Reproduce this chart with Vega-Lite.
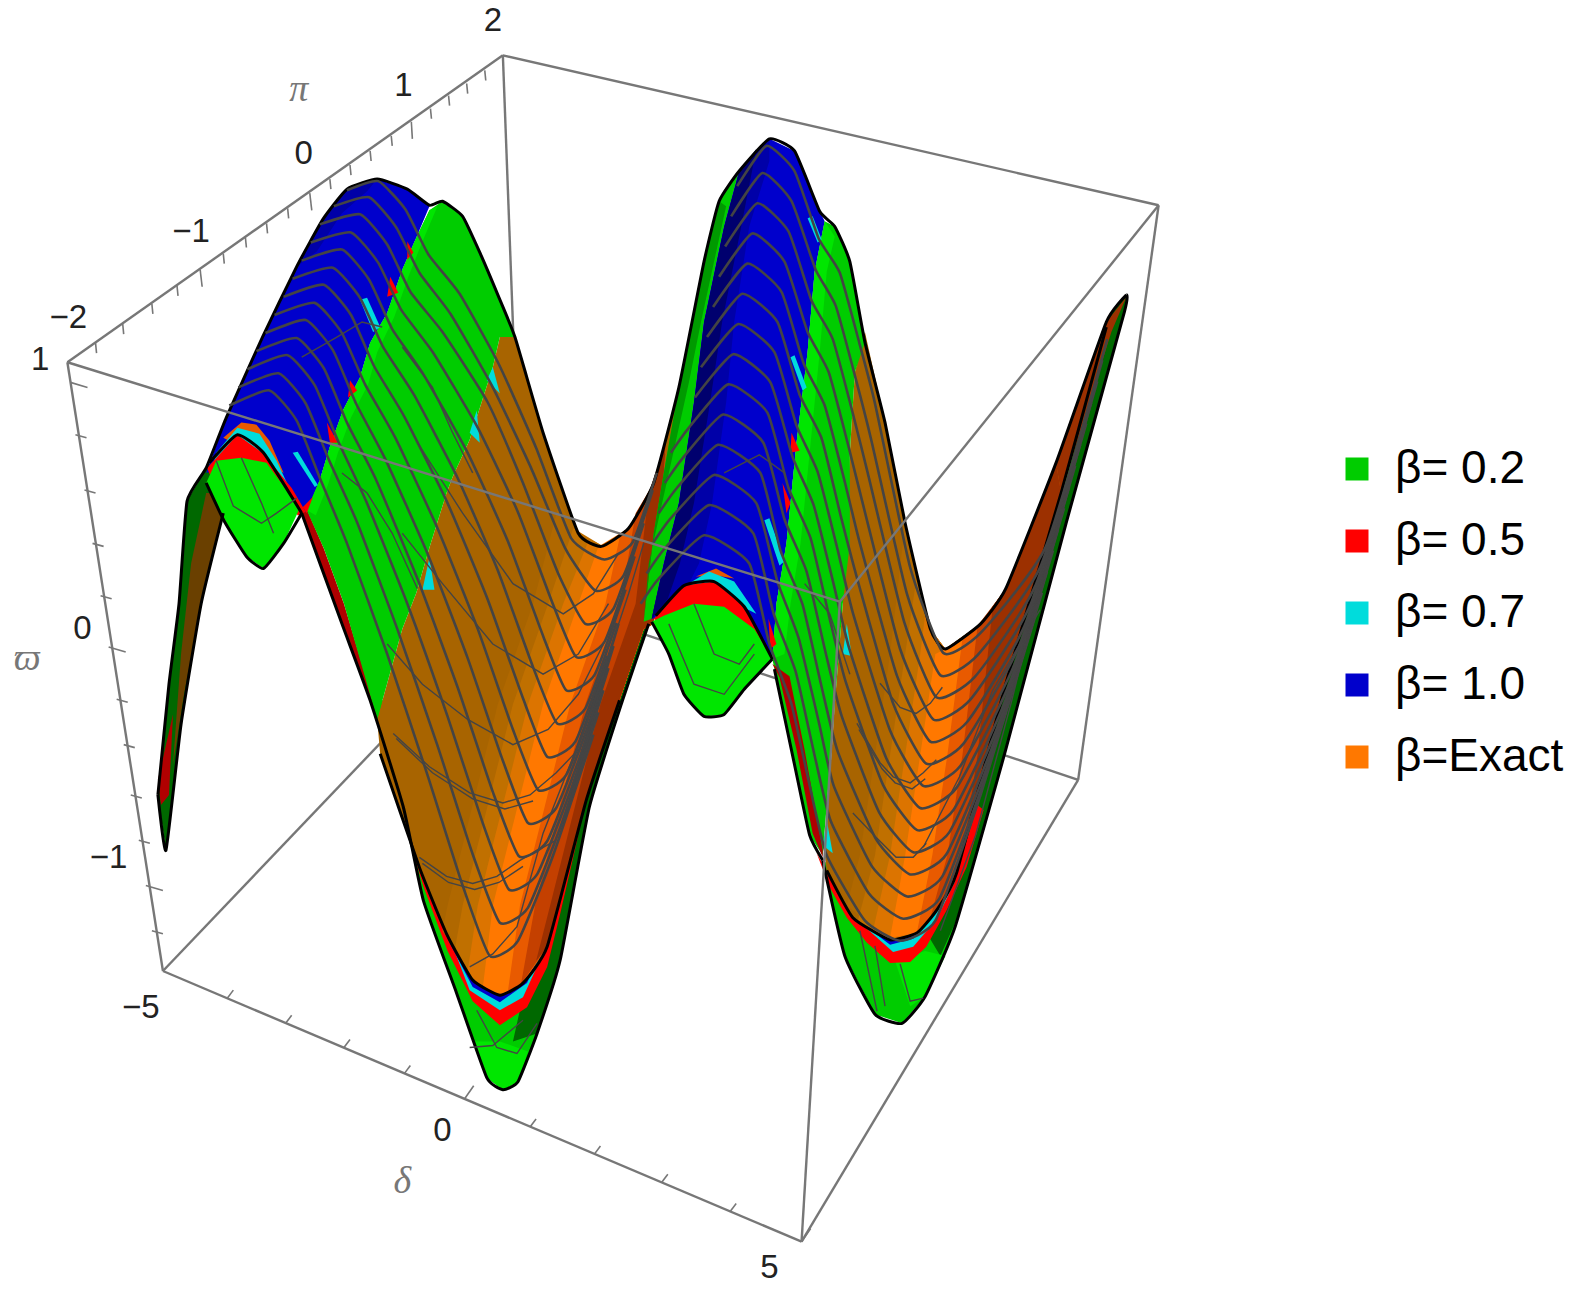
{
"$schema":"https://vega.github.io/schema/vega-lite/v6.json",
"width":1577,"height":1293,"padding":0,"autosize":{"type":"none"},"background":"white",
"config":{"view":{"stroke":null}},
"datasets":{
"parts":[{"part":"p01","tone":"gd"},{"part":"p02","tone":"bd"},{"part":"p03","tone":"rd"},{"part":"p04","tone":"β= 1.0"},{"part":"p05","tone":"bm"},{"part":"p06","tone":"o6"},{"part":"p07","tone":"β= 0.7"},{"part":"p08","tone":"β= 0.5"},{"part":"p09","tone":"gb"},{"part":"p11","tone":"β= 0.2"},{"part":"p12","tone":"gd"},{"part":"p13","tone":"gb"},{"part":"p14","tone":"rd"},{"part":"p15","tone":"β= 0.5"},{"part":"p16","tone":"β= 0.7"},{"part":"p17","tone":"β= 1.0"},{"part":"p18","tone":"o1"},{"part":"p19","tone":"o2"},{"part":"p20","tone":"o3"},{"part":"p21","tone":"o4"},{"part":"p22","tone":"β=Exact"},{"part":"p23","tone":"o6"},{"part":"p24","tone":"o7"},{"part":"p25","tone":"o8"},{"part":"p26","tone":"β= 0.2"},{"part":"p27","tone":"gb"},{"part":"p30","tone":"β= 0.2"},{"part":"p31","tone":"gd"},{"part":"p32","tone":"gb"},{"part":"p33","tone":"β= 0.5"},{"part":"p34","tone":"β= 0.7"},{"part":"p35","tone":"β= 1.0"},{"part":"p36","tone":"o1"},{"part":"p37","tone":"o2"},{"part":"p38","tone":"o3"},{"part":"p39","tone":"o4"},{"part":"p40","tone":"β=Exact"},{"part":"p41","tone":"o6"},{"part":"p42","tone":"o7"},{"part":"p43","tone":"o8"},{"part":"p44","tone":"o8"},{"part":"p45","tone":"β= 0.2"},{"part":"p46","tone":"gm"},{"part":"p47","tone":"β= 1.0"},{"part":"p48","tone":"bm"},{"part":"p49","tone":"bd2"},{"part":"p50","tone":"o6"},{"part":"p51","tone":"β= 0.7"},{"part":"p52","tone":"β= 0.5"},{"part":"p53","tone":"gb"},{"part":"p54","tone":"β= 0.2"},{"part":"p55","tone":"gb"},{"part":"p56","tone":"rd"},{"part":"c1","tone":"β= 0.7"},{"part":"c2","tone":"β= 0.7"},{"part":"c3","tone":"β= 0.7"},{"part":"c4","tone":"β= 0.7"},{"part":"c5","tone":"β= 0.7"},{"part":"c6","tone":"β= 0.7"},{"part":"c7","tone":"β= 0.7"},{"part":"c8","tone":"β= 0.7"},{"part":"c9","tone":"β= 0.7"},{"part":"c10","tone":"β= 0.7"},{"part":"r1","tone":"β= 0.5"},{"part":"r2","tone":"β= 0.5"},{"part":"r3","tone":"β= 0.5"},{"part":"r4","tone":"β= 0.5"},{"part":"r5","tone":"β= 0.5"},{"part":"r6","tone":"β= 0.5"},{"part":"r7","tone":"β= 0.5"},{"part":"r8","tone":"β= 0.5"}],
"poly":[
{"part":"p01","u":157,"v":790},{"part":"p01","u":168,"v":680},{"part":"p01","u":178,"v":600},{"part":"p01","u":186,"v":498},{"part":"p01","u":205,"v":465},{"part":"p01","u":232,"v":430},{"part":"p01","u":222,"v":510},{"part":"p01","u":200,"v":600},{"part":"p01","u":180,"v":720},{"part":"p01","u":165,"v":845},
{"part":"p02","u":180,"v":650},{"part":"p02","u":190,"v":560},{"part":"p02","u":205,"v":490},{"part":"p02","u":222,"v":490},{"part":"p02","u":222,"v":510},{"part":"p02","u":200,"v":600},{"part":"p02","u":183,"v":690},{"part":"p02","u":172,"v":760},
{"part":"p03","u":157,"v":775},{"part":"p03","u":172,"v":710},{"part":"p03","u":168,"v":790},{"part":"p03","u":160,"v":800},
{"part":"p04","u":205,"v":470},{"part":"p04","u":225,"v":415},{"part":"p04","u":261,"v":335},{"part":"p04","u":295,"v":265},{"part":"p04","u":321,"v":218},{"part":"p04","u":345,"v":188},{"part":"p04","u":375,"v":178},{"part":"p04","u":405,"v":188},{"part":"p04","u":427,"v":205},{"part":"p04","u":414,"v":236},{"part":"p04","u":400,"v":268},{"part":"p04","u":385,"v":311},{"part":"p04","u":368,"v":341},{"part":"p04","u":358,"v":375},{"part":"p04","u":341,"v":408},{"part":"p04","u":328,"v":444},{"part":"p04","u":318,"v":477},{"part":"p04","u":305,"v":510},{"part":"p04","u":296,"v":505},{"part":"p04","u":270,"v":470},{"part":"p04","u":240,"v":460},
{"part":"p05","u":295,"v":265},{"part":"p05","u":321,"v":218},{"part":"p05","u":345,"v":188},{"part":"p05","u":375,"v":178},{"part":"p05","u":365,"v":190},{"part":"p05","u":340,"v":212},{"part":"p05","u":315,"v":250},
{"part":"p06","u":222,"v":435},{"part":"p06","u":240,"v":420},{"part":"p06","u":255,"v":422},{"part":"p06","u":268,"v":438},{"part":"p06","u":282,"v":470},{"part":"p06","u":250,"v":450},
{"part":"p07","u":215,"v":450},{"part":"p07","u":236,"v":425},{"part":"p07","u":258,"v":431},{"part":"p07","u":275,"v":458},{"part":"p07","u":290,"v":490},{"part":"p07","u":260,"v":460},{"part":"p07","u":236,"v":445},{"part":"p07","u":212,"v":462},
{"part":"p08","u":206,"v":465},{"part":"p08","u":236,"v":432},{"part":"p08","u":262,"v":451},{"part":"p08","u":290,"v":485},{"part":"p08","u":306,"v":512},{"part":"p08","u":296,"v":512},{"part":"p08","u":265,"v":470},{"part":"p08","u":240,"v":465},{"part":"p08","u":210,"v":475},
{"part":"p09","u":205,"v":480},{"part":"p09","u":215,"v":458},{"part":"p09","u":240,"v":455},{"part":"p09","u":265,"v":460},{"part":"p09","u":298,"v":505},{"part":"p09","u":282,"v":540},{"part":"p09","u":262,"v":565},{"part":"p09","u":245,"v":553},{"part":"p09","u":223,"v":518},
{"part":"p11","u":368,"v":696},{"part":"p11","u":401,"v":802},{"part":"p11","u":421,"v":895},{"part":"p11","u":454,"v":987},{"part":"p11","u":484,"v":1071},{"part":"p11","u":500,"v":1083},{"part":"p11","u":515,"v":1075},{"part":"p11","u":534,"v":1027},{"part":"p11","u":557,"v":954},{"part":"p11","u":586,"v":802},{"part":"p11","u":619,"v":696},
{"part":"p12","u":534,"v":1027},{"part":"p12","u":557,"v":954},{"part":"p12","u":586,"v":802},{"part":"p12","u":619,"v":696},{"part":"p12","u":645,"v":620},{"part":"p12","u":640,"v":625},{"part":"p12","u":616,"v":696},{"part":"p12","u":583,"v":795},{"part":"p12","u":544,"v":941},{"part":"p12","u":520,"v":990},{"part":"p12","u":510,"v":1035},
{"part":"p13","u":484,"v":1071},{"part":"p13","u":500,"v":1083},{"part":"p13","u":515,"v":1075},{"part":"p13","u":525,"v":1045},{"part":"p13","u":497,"v":1035},{"part":"p13","u":470,"v":1035},
{"part":"p14","u":300,"v":510},{"part":"p14","u":306,"v":508},{"part":"p14","u":322,"v":545},{"part":"p14","u":342,"v":600},{"part":"p14","u":378,"v":720},{"part":"p14","u":368,"v":696},{"part":"p14","u":340,"v":620},
{"part":"p15","u":378,"v":740},{"part":"p15","u":421,"v":881},{"part":"p15","u":445,"v":945},{"part":"p15","u":470,"v":995},{"part":"p15","u":497,"v":1019},{"part":"p15","u":524,"v":1001},{"part":"p15","u":544,"v":961},{"part":"p15","u":557,"v":908},{"part":"p15","u":575,"v":830},{"part":"p15","u":497,"v":950},
{"part":"p16","u":425,"v":875},{"part":"p16","u":467,"v":984},{"part":"p16","u":497,"v":1004},{"part":"p16","u":520,"v":991},{"part":"p16","u":548,"v":930},{"part":"p16","u":497,"v":950},
{"part":"p17","u":425,"v":875},{"part":"p17","u":447,"v":937},{"part":"p17","u":470,"v":981},{"part":"p17","u":497,"v":996},{"part":"p17","u":524,"v":977},{"part":"p17","u":548,"v":925},{"part":"p17","u":497,"v":950},
{"part":"p18","u":497,"v":335},{"part":"p18","u":512,"v":335},{"part":"p18","u":540,"v":430},{"part":"p18","u":575,"v":530},{"part":"p18","u":600,"v":543},{"part":"p18","u":625,"v":525},{"part":"p18","u":650,"v":480},{"part":"p18","u":675,"v":385},{"part":"p18","u":690,"v":310},{"part":"p18","u":650,"v":620},{"part":"p18","u":640,"v":625},{"part":"p18","u":616,"v":696},{"part":"p18","u":583,"v":795},{"part":"p18","u":544,"v":941},{"part":"p18","u":520,"v":977},{"part":"p18","u":497,"v":989},{"part":"p18","u":470,"v":974},{"part":"p18","u":444,"v":928},{"part":"p18","u":417,"v":862},{"part":"p18","u":378,"v":749},{"part":"p18","u":375,"v":715},{"part":"p18","u":400,"v":625},{"part":"p18","u":414,"v":589},{"part":"p18","u":427,"v":544},{"part":"p18","u":444,"v":490},{"part":"p18","u":450,"v":474},{"part":"p18","u":467,"v":437},{"part":"p18","u":474,"v":415},{"part":"p18","u":490,"v":365},
{"part":"p19","u":440,"v":925},{"part":"p19","u":445,"v":900},{"part":"p19","u":470,"v":800},{"part":"p19","u":495,"v":700},{"part":"p19","u":530,"v":600},{"part":"p19","u":556,"v":500},{"part":"p19","u":575,"v":530},{"part":"p19","u":600,"v":543},{"part":"p19","u":625,"v":525},{"part":"p19","u":650,"v":480},{"part":"p19","u":662,"v":440},{"part":"p19","u":650,"v":620},{"part":"p19","u":640,"v":625},{"part":"p19","u":616,"v":696},{"part":"p19","u":583,"v":795},{"part":"p19","u":544,"v":941},{"part":"p19","u":520,"v":977},{"part":"p19","u":497,"v":989},{"part":"p19","u":470,"v":974},
{"part":"p20","u":452,"v":945},{"part":"p20","u":460,"v":900},{"part":"p20","u":485,"v":800},{"part":"p20","u":510,"v":700},{"part":"p20","u":545,"v":600},{"part":"p20","u":570,"v":525},{"part":"p20","u":600,"v":543},{"part":"p20","u":625,"v":525},{"part":"p20","u":650,"v":480},{"part":"p20","u":662,"v":440},{"part":"p20","u":650,"v":620},{"part":"p20","u":640,"v":625},{"part":"p20","u":616,"v":696},{"part":"p20","u":583,"v":795},{"part":"p20","u":544,"v":941},{"part":"p20","u":520,"v":977},{"part":"p20","u":497,"v":989},{"part":"p20","u":470,"v":974},
{"part":"p21","u":465,"v":965},{"part":"p21","u":475,"v":900},{"part":"p21","u":500,"v":800},{"part":"p21","u":525,"v":700},{"part":"p21","u":560,"v":600},{"part":"p21","u":585,"v":538},{"part":"p21","u":600,"v":543},{"part":"p21","u":625,"v":525},{"part":"p21","u":650,"v":480},{"part":"p21","u":662,"v":440},{"part":"p21","u":650,"v":620},{"part":"p21","u":640,"v":625},{"part":"p21","u":616,"v":696},{"part":"p21","u":583,"v":795},{"part":"p21","u":544,"v":941},{"part":"p21","u":520,"v":977},{"part":"p21","u":497,"v":989},{"part":"p21","u":470,"v":974},
{"part":"p22","u":480,"v":982},{"part":"p22","u":490,"v":900},{"part":"p22","u":515,"v":800},{"part":"p22","u":540,"v":700},{"part":"p22","u":575,"v":600},{"part":"p22","u":595,"v":543},{"part":"p22","u":625,"v":525},{"part":"p22","u":650,"v":480},{"part":"p22","u":662,"v":440},{"part":"p22","u":650,"v":620},{"part":"p22","u":640,"v":625},{"part":"p22","u":616,"v":696},{"part":"p22","u":583,"v":795},{"part":"p22","u":544,"v":941},{"part":"p22","u":520,"v":977},{"part":"p22","u":497,"v":989},
{"part":"p23","u":505,"v":985},{"part":"p23","u":517,"v":900},{"part":"p23","u":542,"v":800},{"part":"p23","u":567,"v":700},{"part":"p23","u":602,"v":600},{"part":"p23","u":617,"v":530},{"part":"p23","u":625,"v":525},{"part":"p23","u":650,"v":480},{"part":"p23","u":662,"v":440},{"part":"p23","u":650,"v":620},{"part":"p23","u":640,"v":625},{"part":"p23","u":616,"v":696},{"part":"p23","u":583,"v":795},{"part":"p23","u":544,"v":941},{"part":"p23","u":520,"v":977},
{"part":"p24","u":518,"v":978},{"part":"p24","u":532,"v":900},{"part":"p24","u":557,"v":800},{"part":"p24","u":582,"v":700},{"part":"p24","u":617,"v":600},{"part":"p24","u":632,"v":510},{"part":"p24","u":650,"v":480},{"part":"p24","u":662,"v":440},{"part":"p24","u":650,"v":620},{"part":"p24","u":640,"v":625},{"part":"p24","u":616,"v":696},{"part":"p24","u":583,"v":795},{"part":"p24","u":544,"v":941},
{"part":"p25","u":533,"v":955},{"part":"p25","u":547,"v":900},{"part":"p25","u":572,"v":800},{"part":"p25","u":597,"v":700},{"part":"p25","u":632,"v":600},{"part":"p25","u":645,"v":490},{"part":"p25","u":662,"v":440},{"part":"p25","u":650,"v":620},{"part":"p25","u":640,"v":625},{"part":"p25","u":616,"v":696},{"part":"p25","u":583,"v":795},{"part":"p25","u":544,"v":941},
{"part":"p26","u":305,"v":507},{"part":"p26","u":318,"v":477},{"part":"p26","u":328,"v":444},{"part":"p26","u":341,"v":408},{"part":"p26","u":358,"v":375},{"part":"p26","u":368,"v":341},{"part":"p26","u":385,"v":311},{"part":"p26","u":400,"v":268},{"part":"p26","u":414,"v":236},{"part":"p26","u":427,"v":209},{"part":"p26","u":440,"v":200},{"part":"p26","u":460,"v":215},{"part":"p26","u":478,"v":253},{"part":"p26","u":495,"v":293},{"part":"p26","u":512,"v":335},{"part":"p26","u":497,"v":335},{"part":"p26","u":490,"v":365},{"part":"p26","u":474,"v":415},{"part":"p26","u":467,"v":437},{"part":"p26","u":450,"v":474},{"part":"p26","u":444,"v":490},{"part":"p26","u":427,"v":544},{"part":"p26","u":414,"v":589},{"part":"p26","u":400,"v":625},{"part":"p26","u":375,"v":715},{"part":"p26","u":342,"v":600},{"part":"p26","u":322,"v":545},
{"part":"p27","u":305,"v":507},{"part":"p27","u":318,"v":477},{"part":"p27","u":328,"v":444},{"part":"p27","u":341,"v":408},{"part":"p27","u":358,"v":375},{"part":"p27","u":368,"v":341},{"part":"p27","u":385,"v":311},{"part":"p27","u":400,"v":268},{"part":"p27","u":414,"v":236},{"part":"p27","u":427,"v":209},{"part":"p27","u":435,"v":205},{"part":"p27","u":420,"v":240},{"part":"p27","u":406,"v":275},{"part":"p27","u":392,"v":315},{"part":"p27","u":375,"v":350},{"part":"p27","u":366,"v":382},{"part":"p27","u":349,"v":415},{"part":"p27","u":336,"v":450},{"part":"p27","u":326,"v":482},{"part":"p27","u":314,"v":512},
{"part":"p30","u":818,"v":855},{"part":"p30","u":840,"v":950},{"part":"p30","u":870,"v":1008},{"part":"p30","u":897,"v":1017},{"part":"p30","u":920,"v":990},{"part":"p30","u":950,"v":920},{"part":"p30","u":1000,"v":745},{"part":"p30","u":1060,"v":520},{"part":"p30","u":1118,"v":310},{"part":"p30","u":1120,"v":293},{"part":"p30","u":1105,"v":310},{"part":"p30","u":1050,"v":465},{"part":"p30","u":1000,"v":700},{"part":"p30","u":950,"v":860},{"part":"p30","u":920,"v":940},{"part":"p30","u":890,"v":942},{"part":"p30","u":860,"v":920},{"part":"p30","u":825,"v":860},
{"part":"p31","u":1120,"v":293},{"part":"p31","u":1118,"v":310},{"part":"p31","u":1060,"v":520},{"part":"p31","u":1000,"v":745},{"part":"p31","u":955,"v":905},{"part":"p31","u":935,"v":950},{"part":"p31","u":920,"v":925},{"part":"p31","u":950,"v":830},{"part":"p31","u":1000,"v":680},{"part":"p31","u":1055,"v":500},{"part":"p31","u":1100,"v":320},
{"part":"p32","u":890,"v":955},{"part":"p32","u":920,"v":945},{"part":"p32","u":940,"v":950},{"part":"p32","u":920,"v":990},{"part":"p32","u":905,"v":1000},
{"part":"p33","u":812,"v":848},{"part":"p33","u":825,"v":882},{"part":"p33","u":842,"v":912},{"part":"p33","u":862,"v":937},{"part":"p33","u":885,"v":957},{"part":"p33","u":905,"v":956},{"part":"p33","u":921,"v":941},{"part":"p33","u":941,"v":905},{"part":"p33","u":961,"v":862},{"part":"p33","u":978,"v":805},{"part":"p33","u":972,"v":800},{"part":"p33","u":951,"v":868},{"part":"p33","u":931,"v":905},{"part":"p33","u":912,"v":927},{"part":"p33","u":885,"v":934},{"part":"p33","u":848,"v":912},{"part":"p33","u":822,"v":865},
{"part":"p34","u":845,"v":905},{"part":"p34","u":852,"v":914},{"part":"p34","u":888,"v":946},{"part":"p34","u":908,"v":941},{"part":"p34","u":931,"v":914},{"part":"p34","u":950,"v":875},{"part":"p34","u":931,"v":900},{"part":"p34","u":905,"v":925},{"part":"p34","u":885,"v":930},{"part":"p34","u":855,"v":915},
{"part":"p35","u":848,"v":905},{"part":"p35","u":860,"v":920},{"part":"p35","u":885,"v":939},{"part":"p35","u":908,"v":933},{"part":"p35","u":931,"v":905},{"part":"p35","u":945,"v":880},{"part":"p35","u":931,"v":898},{"part":"p35","u":912,"v":922},{"part":"p35","u":885,"v":928},{"part":"p35","u":855,"v":910},
{"part":"p36","u":860,"v":330},{"part":"p36","u":880,"v":420},{"part":"p36","u":900,"v":520},{"part":"p36","u":925,"v":625},{"part":"p36","u":940,"v":645},{"part":"p36","u":975,"v":620},{"part":"p36","u":1000,"v":585},{"part":"p36","u":1050,"v":460},{"part":"p36","u":1055,"v":490},{"part":"p36","u":1000,"v":680},{"part":"p36","u":951,"v":868},{"part":"p36","u":931,"v":905},{"part":"p36","u":912,"v":927},{"part":"p36","u":885,"v":934},{"part":"p36","u":848,"v":912},{"part":"p36","u":822,"v":865},{"part":"p36","u":820,"v":850},{"part":"p36","u":830,"v":700},{"part":"p36","u":838,"v":600},{"part":"p36","u":845,"v":450},{"part":"p36","u":850,"v":370},
{"part":"p37","u":842,"v":900},{"part":"p37","u":855,"v":850},{"part":"p37","u":870,"v":750},{"part":"p37","u":885,"v":650},{"part":"p37","u":900,"v":520},{"part":"p37","u":925,"v":625},{"part":"p37","u":940,"v":645},{"part":"p37","u":975,"v":620},{"part":"p37","u":1000,"v":585},{"part":"p37","u":1050,"v":460},{"part":"p37","u":1055,"v":490},{"part":"p37","u":1000,"v":680},{"part":"p37","u":951,"v":868},{"part":"p37","u":931,"v":905},{"part":"p37","u":912,"v":927},{"part":"p37","u":885,"v":934},
{"part":"p38","u":853,"v":915},{"part":"p38","u":870,"v":850},{"part":"p38","u":885,"v":750},{"part":"p38","u":900,"v":650},{"part":"p38","u":912,"v":570},{"part":"p38","u":925,"v":625},{"part":"p38","u":940,"v":645},{"part":"p38","u":975,"v":620},{"part":"p38","u":1000,"v":585},{"part":"p38","u":1050,"v":460},{"part":"p38","u":1055,"v":490},{"part":"p38","u":1000,"v":680},{"part":"p38","u":951,"v":868},{"part":"p38","u":931,"v":905},{"part":"p38","u":912,"v":927},{"part":"p38","u":885,"v":934},
{"part":"p39","u":868,"v":925},{"part":"p39","u":885,"v":850},{"part":"p39","u":900,"v":750},{"part":"p39","u":915,"v":650},{"part":"p39","u":920,"v":610},{"part":"p39","u":925,"v":625},{"part":"p39","u":940,"v":645},{"part":"p39","u":975,"v":620},{"part":"p39","u":1000,"v":585},{"part":"p39","u":1050,"v":460},{"part":"p39","u":1055,"v":490},{"part":"p39","u":1000,"v":680},{"part":"p39","u":951,"v":868},{"part":"p39","u":931,"v":905},{"part":"p39","u":912,"v":927},{"part":"p39","u":885,"v":934},
{"part":"p40","u":885,"v":932},{"part":"p40","u":900,"v":850},{"part":"p40","u":915,"v":750},{"part":"p40","u":930,"v":650},{"part":"p40","u":940,"v":645},{"part":"p40","u":975,"v":620},{"part":"p40","u":1000,"v":585},{"part":"p40","u":1050,"v":460},{"part":"p40","u":1055,"v":490},{"part":"p40","u":1000,"v":680},{"part":"p40","u":951,"v":868},{"part":"p40","u":931,"v":905},{"part":"p40","u":912,"v":927},
{"part":"p41","u":912,"v":925},{"part":"p41","u":927,"v":850},{"part":"p41","u":942,"v":750},{"part":"p41","u":957,"v":634},{"part":"p41","u":975,"v":620},{"part":"p41","u":1000,"v":585},{"part":"p41","u":1050,"v":460},{"part":"p41","u":1055,"v":490},{"part":"p41","u":1000,"v":680},{"part":"p41","u":951,"v":868},{"part":"p41","u":931,"v":905},
{"part":"p42","u":925,"v":912},{"part":"p42","u":942,"v":850},{"part":"p42","u":957,"v":750},{"part":"p42","u":972,"v":622},{"part":"p42","u":1000,"v":585},{"part":"p42","u":1050,"v":460},{"part":"p42","u":1055,"v":490},{"part":"p42","u":1000,"v":680},{"part":"p42","u":951,"v":868},{"part":"p42","u":931,"v":905},
{"part":"p43","u":938,"v":892},{"part":"p43","u":957,"v":850},{"part":"p43","u":972,"v":750},{"part":"p43","u":987,"v":603},{"part":"p43","u":1000,"v":585},{"part":"p43","u":1050,"v":460},{"part":"p43","u":1055,"v":490},{"part":"p43","u":1000,"v":680},{"part":"p43","u":951,"v":868},
{"part":"p44","u":1050,"v":460},{"part":"p44","u":1100,"v":320},{"part":"p44","u":1120,"v":295},{"part":"p44","u":1105,"v":330},{"part":"p44","u":1055,"v":490},
{"part":"p45","u":715,"v":200},{"part":"p45","u":700,"v":260},{"part":"p45","u":688,"v":320},{"part":"p45","u":675,"v":385},{"part":"p45","u":660,"v":470},{"part":"p45","u":650,"v":530},{"part":"p45","u":640,"v":618},{"part":"p45","u":648,"v":615},{"part":"p45","u":660,"v":560},{"part":"p45","u":675,"v":500},{"part":"p45","u":690,"v":400},{"part":"p45","u":700,"v":320},{"part":"p45","u":720,"v":225},{"part":"p45","u":735,"v":170},
{"part":"p46","u":715,"v":200},{"part":"p46","u":700,"v":260},{"part":"p46","u":688,"v":320},{"part":"p46","u":675,"v":385},{"part":"p46","u":660,"v":470},{"part":"p46","u":650,"v":530},{"part":"p46","u":640,"v":618},{"part":"p46","u":645,"v":560},{"part":"p46","u":665,"v":470},{"part":"p46","u":685,"v":380},{"part":"p46","u":697,"v":320},{"part":"p46","u":710,"v":260},{"part":"p46","u":722,"v":205},
{"part":"p47","u":648,"v":615},{"part":"p47","u":660,"v":560},{"part":"p47","u":675,"v":500},{"part":"p47","u":690,"v":400},{"part":"p47","u":700,"v":320},{"part":"p47","u":720,"v":225},{"part":"p47","u":735,"v":170},{"part":"p47","u":765,"v":138},{"part":"p47","u":790,"v":150},{"part":"p47","u":815,"v":210},{"part":"p47","u":820,"v":220},{"part":"p47","u":810,"v":270},{"part":"p47","u":803,"v":350},{"part":"p47","u":792,"v":440},{"part":"p47","u":782,"v":540},{"part":"p47","u":772,"v":600},{"part":"p47","u":768,"v":655},{"part":"p47","u":745,"v":620},{"part":"p47","u":715,"v":610},{"part":"p47","u":680,"v":610},
{"part":"p48","u":648,"v":615},{"part":"p48","u":660,"v":560},{"part":"p48","u":675,"v":500},{"part":"p48","u":690,"v":400},{"part":"p48","u":700,"v":320},{"part":"p48","u":720,"v":225},{"part":"p48","u":735,"v":170},{"part":"p48","u":765,"v":138},{"part":"p48","u":765,"v":160},{"part":"p48","u":745,"v":225},{"part":"p48","u":730,"v":320},{"part":"p48","u":722,"v":400},{"part":"p48","u":708,"v":500},{"part":"p48","u":695,"v":560},{"part":"p48","u":680,"v":590},
{"part":"p49","u":648,"v":615},{"part":"p49","u":660,"v":560},{"part":"p49","u":675,"v":500},{"part":"p49","u":690,"v":400},{"part":"p49","u":700,"v":320},{"part":"p49","u":720,"v":225},{"part":"p49","u":735,"v":170},{"part":"p49","u":752,"v":148},{"part":"p49","u":737,"v":225},{"part":"p49","u":718,"v":320},{"part":"p49","u":706,"v":400},{"part":"p49","u":690,"v":500},{"part":"p49","u":676,"v":560},{"part":"p49","u":664,"v":595},
{"part":"p50","u":692,"v":573},{"part":"p50","u":712,"v":565},{"part":"p50","u":730,"v":575},{"part":"p50","u":712,"v":572},
{"part":"p51","u":676,"v":585},{"part":"p51","u":705,"v":568},{"part":"p51","u":730,"v":578},{"part":"p51","u":752,"v":610},{"part":"p51","u":722,"v":595},{"part":"p51","u":700,"v":592},
{"part":"p52","u":650,"v":615},{"part":"p52","u":680,"v":582},{"part":"p52","u":710,"v":578},{"part":"p52","u":740,"v":603},{"part":"p52","u":768,"v":655},{"part":"p52","u":745,"v":635},{"part":"p52","u":715,"v":615},{"part":"p52","u":690,"v":615},{"part":"p52","u":660,"v":622},
{"part":"p53","u":648,"v":618},{"part":"p53","u":660,"v":612},{"part":"p53","u":690,"v":600},{"part":"p53","u":720,"v":603},{"part":"p53","u":750,"v":625},{"part":"p53","u":768,"v":655},{"part":"p53","u":740,"v":685},{"part":"p53","u":720,"v":710},{"part":"p53","u":700,"v":712},{"part":"p53","u":680,"v":690},{"part":"p53","u":665,"v":650},
{"part":"p54","u":820,"v":220},{"part":"p54","u":830,"v":225},{"part":"p54","u":845,"v":260},{"part":"p54","u":860,"v":340},{"part":"p54","u":850,"v":370},{"part":"p54","u":845,"v":450},{"part":"p54","u":845,"v":540},{"part":"p54","u":838,"v":600},{"part":"p54","u":830,"v":700},{"part":"p54","u":818,"v":850},{"part":"p54","u":805,"v":830},{"part":"p54","u":790,"v":760},{"part":"p54","u":770,"v":665},{"part":"p54","u":768,"v":655},{"part":"p54","u":772,"v":600},{"part":"p54","u":782,"v":540},{"part":"p54","u":792,"v":440},{"part":"p54","u":803,"v":350},{"part":"p54","u":810,"v":270},
{"part":"p55","u":820,"v":220},{"part":"p55","u":810,"v":270},{"part":"p55","u":803,"v":350},{"part":"p55","u":792,"v":440},{"part":"p55","u":782,"v":540},{"part":"p55","u":772,"v":600},{"part":"p55","u":768,"v":655},{"part":"p55","u":780,"v":650},{"part":"p55","u":786,"v":600},{"part":"p55","u":796,"v":540},{"part":"p55","u":806,"v":440},{"part":"p55","u":815,"v":350},{"part":"p55","u":822,"v":270},{"part":"p55","u":830,"v":235},
{"part":"p56","u":768,"v":660},{"part":"p56","u":775,"v":673},{"part":"p56","u":792,"v":745},{"part":"p56","u":808,"v":828},{"part":"p56","u":818,"v":852},{"part":"p56","u":818,"v":845},{"part":"p56","u":800,"v":745},{"part":"p56","u":785,"v":672},
{"part":"c1","u":358,"v":298},{"part":"c1","u":365,"v":296},{"part":"c1","u":378,"v":325},{"part":"c1","u":371,"v":330},
{"part":"c2","u":291,"v":450},{"part":"c2","u":296,"v":449},{"part":"c2","u":316,"v":482},{"part":"c2","u":313,"v":484},
{"part":"c3","u":490,"v":365},{"part":"c3","u":497,"v":391},{"part":"c3","u":484,"v":378},
{"part":"c4","u":474,"v":408},{"part":"c4","u":477,"v":440},{"part":"c4","u":467,"v":430},
{"part":"c5","u":427,"v":554},{"part":"c5","u":432,"v":586},{"part":"c5","u":420,"v":586},
{"part":"c6","u":760,"v":517},{"part":"c6","u":765,"v":515},{"part":"c6","u":780,"v":558},{"part":"c6","u":775,"v":562},
{"part":"c7","u":786,"v":355},{"part":"c7","u":790,"v":353},{"part":"c7","u":802,"v":385},{"part":"c7","u":798,"v":388},
{"part":"c8","u":803,"v":217},{"part":"c8","u":808,"v":215},{"part":"c8","u":817,"v":238},{"part":"c8","u":813,"v":241},
{"part":"c9","u":842,"v":620},{"part":"c9","u":847,"v":652},{"part":"c9","u":838,"v":650},
{"part":"c10","u":822,"v":815},{"part":"c10","u":828,"v":848},{"part":"c10","u":818,"v":840},
{"part":"r1","u":388,"v":275},{"part":"r1","u":396,"v":291},{"part":"r1","u":385,"v":295},
{"part":"r2","u":348,"v":378},{"part":"r2","u":355,"v":388},{"part":"r2","u":346,"v":395},
{"part":"r3","u":325,"v":420},{"part":"r3","u":336,"v":440},{"part":"r3","u":328,"v":440},
{"part":"r4","u":405,"v":240},{"part":"r4","u":411,"v":251},{"part":"r4","u":405,"v":258},
{"part":"r5","u":301,"v":504},{"part":"r5","u":311,"v":494},{"part":"r5","u":305,"v":510},
{"part":"r6","u":787,"v":430},{"part":"r6","u":795,"v":448},{"part":"r6","u":786,"v":450},
{"part":"r7","u":764,"v":615},{"part":"r7","u":772,"v":640},{"part":"r7","u":766,"v":645},
{"part":"r8","u":778,"v":480},{"part":"r8","u":786,"v":500},{"part":"r8","u":782,"v":510}
],
"outline":[
{"line":"s1","u":157,"v":790},{"line":"s1","u":168,"v":680},{"line":"s1","u":178,"v":600},{"line":"s1","u":186,"v":498},{"line":"s1","u":205,"v":465},{"line":"s1","u":225,"v":415},{"line":"s1","u":261,"v":335},{"line":"s1","u":295,"v":265},{"line":"s1","u":321,"v":218},{"line":"s1","u":345,"v":188},{"line":"s1","u":375,"v":178},{"line":"s1","u":405,"v":188},{"line":"s1","u":427,"v":204},{"line":"s1","u":440,"v":200},{"line":"s1","u":460,"v":215},{"line":"s1","u":478,"v":253},{"line":"s1","u":495,"v":293},{"line":"s1","u":512,"v":335},{"line":"s1","u":540,"v":430},{"line":"s1","u":575,"v":530},{"line":"s1","u":598,"v":543},{"line":"s1","u":625,"v":525},{"line":"s1","u":650,"v":480},{"line":"s1","u":675,"v":385},{"line":"s1","u":700,"v":260},{"line":"s1","u":715,"v":200},{"line":"s1","u":735,"v":170},{"line":"s1","u":765,"v":138},{"line":"s1","u":790,"v":150},{"line":"s1","u":815,"v":210},{"line":"s1","u":830,"v":225},{"line":"s1","u":845,"v":260},{"line":"s1","u":860,"v":340},{"line":"s1","u":880,"v":420},{"line":"s1","u":900,"v":520},{"line":"s1","u":925,"v":625},{"line":"s1","u":940,"v":645},{"line":"s1","u":975,"v":620},{"line":"s1","u":1000,"v":585},{"line":"s1","u":1050,"v":460},{"line":"s1","u":1100,"v":320},{"line":"s1","u":1120,"v":293},
{"line":"s2","u":1120,"v":293},{"line":"s2","u":1118,"v":310},{"line":"s2","u":1060,"v":520},{"line":"s2","u":1000,"v":745},{"line":"s2","u":950,"v":920},{"line":"s2","u":920,"v":990},{"line":"s2","u":897,"v":1017},{"line":"s2","u":870,"v":1008},{"line":"s2","u":840,"v":950},{"line":"s2","u":818,"v":855},
{"line":"s3","u":770,"v":665},{"line":"s3","u":790,"v":760},{"line":"s3","u":805,"v":830},{"line":"s3","u":818,"v":855},
{"line":"s4","u":300,"v":510},{"line":"s4","u":340,"v":620},{"line":"s4","u":368,"v":696},{"line":"s4","u":401,"v":802},{"line":"s4","u":421,"v":895},{"line":"s4","u":454,"v":987},{"line":"s4","u":484,"v":1071},{"line":"s4","u":500,"v":1083},{"line":"s4","u":515,"v":1075},{"line":"s4","u":534,"v":1027},{"line":"s4","u":557,"v":954},{"line":"s4","u":586,"v":802},{"line":"s4","u":619,"v":696},{"line":"s4","u":645,"v":620},
{"line":"s5","u":205,"v":480},{"line":"s5","u":223,"v":518},{"line":"s5","u":245,"v":553},{"line":"s5","u":262,"v":565},{"line":"s5","u":282,"v":540},{"line":"s5","u":300,"v":510},
{"line":"s6","u":648,"v":618},{"line":"s6","u":665,"v":650},{"line":"s6","u":680,"v":690},{"line":"s6","u":700,"v":712},{"line":"s6","u":720,"v":710},{"line":"s6","u":740,"v":685},{"line":"s6","u":768,"v":655},
{"line":"s7","u":222,"v":510},{"line":"s7","u":200,"v":600},{"line":"s7","u":180,"v":720},{"line":"s7","u":165,"v":845},{"line":"s7","u":157,"v":790},
{"line":"s8","u":378,"v":749},{"line":"s8","u":417,"v":862},{"line":"s8","u":444,"v":928},{"line":"s8","u":470,"v":974},{"line":"s8","u":497,"v":989},{"line":"s8","u":520,"v":977},{"line":"s8","u":544,"v":941},{"line":"s8","u":583,"v":795},{"line":"s8","u":616,"v":696},
{"line":"s9","u":822,"v":865},{"line":"s9","u":848,"v":912},{"line":"s9","u":885,"v":934},{"line":"s9","u":912,"v":927},{"line":"s9","u":931,"v":905},{"line":"s9","u":951,"v":868},{"line":"s9","u":1000,"v":680},{"line":"s9","u":1055,"v":490},{"line":"s9","u":1100,"v":325},
{"line":"s10","u":208,"v":460},{"line":"s10","u":236,"v":432},{"line":"s10","u":262,"v":450},{"line":"s10","u":300,"v":510},
{"line":"s11","u":652,"v":612},{"line":"s11","u":680,"v":582},{"line":"s11","u":710,"v":578},{"line":"s11","u":740,"v":603},{"line":"s11","u":768,"v":655}
],
"mesh":[
{"line":"a0","u":228,"v":403},{"line":"a0","u":268,"v":388},{"line":"a0","u":295,"v":418},{"line":"a0","u":318,"v":475},{"line":"a0","u":345,"v":540},{"line":"a0","u":385,"v":650},{"line":"a0","u":425,"v":770},{"line":"a0","u":460,"v":880},{"line":"a0","u":487,"v":950},{"line":"a0","u":515,"v":935},{"line":"a0","u":550,"v":850},{"line":"a0","u":590,"v":730},
{"line":"a1","u":237,"v":385},{"line":"a1","u":277,"v":371},{"line":"a1","u":304,"v":401},{"line":"a1","u":327,"v":457},{"line":"a1","u":355,"v":519},{"line":"a1","u":395,"v":625},{"line":"a1","u":435,"v":741},{"line":"a1","u":470,"v":849},{"line":"a1","u":497,"v":917},{"line":"a1","u":525,"v":902},{"line":"a1","u":559,"v":817},{"line":"a1","u":595,"v":708},
{"line":"a2","u":246,"v":367},{"line":"a2","u":286,"v":353},{"line":"a2","u":313,"v":383},{"line":"a2","u":336,"v":438},{"line":"a2","u":364,"v":498},{"line":"a2","u":405,"v":600},{"line":"a2","u":445,"v":712},{"line":"a2","u":480,"v":818},{"line":"a2","u":506,"v":884},{"line":"a2","u":534,"v":869},{"line":"a2","u":568,"v":784},{"line":"a2","u":600,"v":686},
{"line":"a3","u":255,"v":349},{"line":"a3","u":295,"v":336},{"line":"a3","u":322,"v":366},{"line":"a3","u":345,"v":420},{"line":"a3","u":374,"v":477},{"line":"a3","u":415,"v":575},{"line":"a3","u":455,"v":683},{"line":"a3","u":490,"v":787},{"line":"a3","u":516,"v":851},{"line":"a3","u":544,"v":836},{"line":"a3","u":577,"v":751},{"line":"a3","u":605,"v":664},
{"line":"a4","u":264,"v":331},{"line":"a4","u":304,"v":318},{"line":"a4","u":331,"v":348},{"line":"a4","u":354,"v":401},{"line":"a4","u":383,"v":456},{"line":"a4","u":425,"v":550},{"line":"a4","u":465,"v":654},{"line":"a4","u":500,"v":756},{"line":"a4","u":525,"v":818},{"line":"a4","u":553,"v":803},{"line":"a4","u":586,"v":718},{"line":"a4","u":610,"v":642},
{"line":"a5","u":273,"v":313},{"line":"a5","u":313,"v":301},{"line":"a5","u":340,"v":331},{"line":"a5","u":363,"v":382},{"line":"a5","u":393,"v":435},{"line":"a5","u":435,"v":525},{"line":"a5","u":475,"v":625},{"line":"a5","u":510,"v":725},{"line":"a5","u":535,"v":785},{"line":"a5","u":563,"v":770},{"line":"a5","u":595,"v":685},{"line":"a5","u":615,"v":620},
{"line":"a6","u":282,"v":295},{"line":"a6","u":322,"v":283},{"line":"a6","u":349,"v":313},{"line":"a6","u":372,"v":364},{"line":"a6","u":402,"v":414},{"line":"a6","u":445,"v":500},{"line":"a6","u":485,"v":596},{"line":"a6","u":520,"v":694},{"line":"a6","u":544,"v":752},{"line":"a6","u":572,"v":737},{"line":"a6","u":604,"v":652},
{"line":"a7","u":291,"v":277},{"line":"a7","u":331,"v":266},{"line":"a7","u":358,"v":296},{"line":"a7","u":381,"v":345},{"line":"a7","u":412,"v":393},{"line":"a7","u":455,"v":475},{"line":"a7","u":495,"v":567},{"line":"a7","u":530,"v":663},{"line":"a7","u":554,"v":719},{"line":"a7","u":582,"v":704},{"line":"a7","u":613,"v":619},
{"line":"a8","u":300,"v":259},{"line":"a8","u":340,"v":248},{"line":"a8","u":367,"v":278},{"line":"a8","u":390,"v":327},{"line":"a8","u":421,"v":372},{"line":"a8","u":465,"v":450},{"line":"a8","u":505,"v":538},{"line":"a8","u":540,"v":632},{"line":"a8","u":563,"v":686},{"line":"a8","u":591,"v":671},{"line":"a8","u":622,"v":586},
{"line":"a9","u":309,"v":241},{"line":"a9","u":349,"v":231},{"line":"a9","u":376,"v":261},{"line":"a9","u":399,"v":308},{"line":"a9","u":431,"v":351},{"line":"a9","u":475,"v":425},{"line":"a9","u":515,"v":509},{"line":"a9","u":550,"v":601},{"line":"a9","u":573,"v":653},{"line":"a9","u":601,"v":638},{"line":"a9","u":631,"v":553},
{"line":"a10","u":318,"v":223},{"line":"a10","u":358,"v":213},{"line":"a10","u":385,"v":243},{"line":"a10","u":408,"v":290},{"line":"a10","u":440,"v":330},{"line":"a10","u":485,"v":400},{"line":"a10","u":520,"v":480},{"line":"a10","u":555,"v":570},{"line":"a10","u":582,"v":620},{"line":"a10","u":610,"v":605},{"line":"a10","u":640,"v":520},
{"line":"a11","u":332,"v":205},{"line":"a11","u":367,"v":196},{"line":"a11","u":394,"v":226},{"line":"a11","u":417,"v":271},{"line":"a11","u":448,"v":312},{"line":"a11","u":490,"v":385},{"line":"a11","u":528,"v":465},{"line":"a11","u":562,"v":545},{"line":"a11","u":592,"v":587},{"line":"a11","u":620,"v":572},{"line":"a11","u":649,"v":487},
{"line":"a12","u":345,"v":189},{"line":"a12","u":376,"v":180},{"line":"a12","u":403,"v":208},{"line":"a12","u":426,"v":253},{"line":"a12","u":457,"v":292},{"line":"a12","u":496,"v":362},{"line":"a12","u":533,"v":445},{"line":"a12","u":568,"v":535},{"line":"a12","u":601,"v":556},{"line":"a12","u":629,"v":539},{"line":"a12","u":653,"v":470},
{"line":"b0","u":637,"v":600},{"line":"b0","u":655,"v":575},{"line":"b0","u":700,"v":532},{"line":"b0","u":745,"v":560},{"line":"b0","u":765,"v":640},{"line":"b0","u":787,"v":700},{"line":"b0","u":806,"v":785},{"line":"b0","u":822,"v":850},{"line":"b0","u":860,"v":915},{"line":"b0","u":895,"v":935},{"line":"b0","u":930,"v":915},{"line":"b0","u":975,"v":790},{"line":"b0","u":1030,"v":610},
{"line":"b1","u":643,"v":570},{"line":"b1","u":661,"v":545},{"line":"b1","u":705,"v":502},{"line":"b1","u":749,"v":530},{"line":"b1","u":769,"v":609},{"line":"b1","u":791,"v":667},{"line":"b1","u":810,"v":751},{"line":"b1","u":826,"v":816},{"line":"b1","u":864,"v":888},{"line":"b1","u":898,"v":913},{"line":"b1","u":934,"v":893},{"line":"b1","u":980,"v":771},{"line":"b1","u":1036,"v":589},
{"line":"b2","u":649,"v":540},{"line":"b2","u":667,"v":515},{"line":"b2","u":710,"v":472},{"line":"b2","u":752,"v":500},{"line":"b2","u":773,"v":578},{"line":"b2","u":794,"v":634},{"line":"b2","u":814,"v":717},{"line":"b2","u":829,"v":781},{"line":"b2","u":867,"v":861},{"line":"b2","u":902,"v":891},{"line":"b2","u":937,"v":871},{"line":"b2","u":985,"v":752},{"line":"b2","u":1041,"v":568},
{"line":"b3","u":655,"v":510},{"line":"b3","u":673,"v":485},{"line":"b3","u":714,"v":442},{"line":"b3","u":756,"v":470},{"line":"b3","u":776,"v":547},{"line":"b3","u":798,"v":601},{"line":"b3","u":817,"v":683},{"line":"b3","u":833,"v":747},{"line":"b3","u":871,"v":834},{"line":"b3","u":905,"v":869},{"line":"b3","u":941,"v":849},{"line":"b3","u":990,"v":733},{"line":"b3","u":1047,"v":547},
{"line":"b4","u":661,"v":480},{"line":"b4","u":679,"v":455},{"line":"b4","u":719,"v":412},{"line":"b4","u":759,"v":440},{"line":"b4","u":780,"v":516},{"line":"b4","u":802,"v":568},{"line":"b4","u":821,"v":649},{"line":"b4","u":837,"v":712},{"line":"b4","u":874,"v":807},{"line":"b4","u":908,"v":847},{"line":"b4","u":944,"v":827},{"line":"b4","u":995,"v":714},{"line":"b4","u":1052,"v":526},
{"line":"b5","u":667,"v":450},{"line":"b5","u":685,"v":425},{"line":"b5","u":724,"v":382},{"line":"b5","u":763,"v":410},{"line":"b5","u":784,"v":485},{"line":"b5","u":806,"v":535},{"line":"b5","u":825,"v":615},{"line":"b5","u":841,"v":678},{"line":"b5","u":878,"v":780},{"line":"b5","u":912,"v":825},{"line":"b5","u":948,"v":805},{"line":"b5","u":1000,"v":695},{"line":"b5","u":1058,"v":505},
{"line":"b6","u":691,"v":395},{"line":"b6","u":729,"v":352},{"line":"b6","u":766,"v":380},{"line":"b6","u":788,"v":454},{"line":"b6","u":809,"v":502},{"line":"b6","u":829,"v":581},{"line":"b6","u":844,"v":643},{"line":"b6","u":881,"v":753},{"line":"b6","u":915,"v":803},{"line":"b6","u":951,"v":783},{"line":"b6","u":1005,"v":676},{"line":"b6","u":1063,"v":484},
{"line":"b7","u":697,"v":365},{"line":"b7","u":734,"v":322},{"line":"b7","u":770,"v":350},{"line":"b7","u":792,"v":423},{"line":"b7","u":813,"v":469},{"line":"b7","u":833,"v":547},{"line":"b7","u":848,"v":609},{"line":"b7","u":885,"v":726},{"line":"b7","u":918,"v":781},{"line":"b7","u":955,"v":761},{"line":"b7","u":1010,"v":657},{"line":"b7","u":1069,"v":463},
{"line":"b8","u":703,"v":335},{"line":"b8","u":738,"v":292},{"line":"b8","u":773,"v":320},{"line":"b8","u":795,"v":392},{"line":"b8","u":817,"v":436},{"line":"b8","u":836,"v":513},{"line":"b8","u":852,"v":574},{"line":"b8","u":888,"v":699},{"line":"b8","u":921,"v":759},{"line":"b8","u":958,"v":739},{"line":"b8","u":1015,"v":638},{"line":"b8","u":1074,"v":442},
{"line":"b9","u":709,"v":305},{"line":"b9","u":743,"v":262},{"line":"b9","u":777,"v":290},{"line":"b9","u":799,"v":361},{"line":"b9","u":820,"v":403},{"line":"b9","u":840,"v":479},{"line":"b9","u":855,"v":540},{"line":"b9","u":892,"v":672},{"line":"b9","u":925,"v":737},{"line":"b9","u":962,"v":717},{"line":"b9","u":1020,"v":619},{"line":"b9","u":1080,"v":421},
{"line":"b10","u":715,"v":275},{"line":"b10","u":748,"v":232},{"line":"b10","u":780,"v":260},{"line":"b10","u":803,"v":330},{"line":"b10","u":824,"v":370},{"line":"b10","u":844,"v":445},{"line":"b10","u":859,"v":505},{"line":"b10","u":895,"v":645},{"line":"b10","u":928,"v":715},{"line":"b10","u":965,"v":695},{"line":"b10","u":1025,"v":600},{"line":"b10","u":1085,"v":400},
{"line":"b11","u":721,"v":245},{"line":"b11","u":753,"v":202},{"line":"b11","u":784,"v":230},{"line":"b11","u":807,"v":299},{"line":"b11","u":828,"v":337},{"line":"b11","u":848,"v":411},{"line":"b11","u":863,"v":471},{"line":"b11","u":899,"v":618},{"line":"b11","u":931,"v":693},{"line":"b11","u":969,"v":673},{"line":"b11","u":1030,"v":581},{"line":"b11","u":1091,"v":379},
{"line":"b12","u":727,"v":215},{"line":"b12","u":758,"v":172},{"line":"b12","u":787,"v":200},{"line":"b12","u":811,"v":268},{"line":"b12","u":831,"v":304},{"line":"b12","u":851,"v":377},{"line":"b12","u":866,"v":436},{"line":"b12","u":902,"v":591},{"line":"b12","u":935,"v":671},{"line":"b12","u":972,"v":651},{"line":"b12","u":1035,"v":562},{"line":"b12","u":1096,"v":358},
{"line":"b13","u":733,"v":185},{"line":"b13","u":762,"v":145},{"line":"b13","u":790,"v":170},{"line":"b13","u":814,"v":237},{"line":"b13","u":835,"v":271},{"line":"b13","u":855,"v":343},{"line":"b13","u":870,"v":401},{"line":"b13","u":905,"v":564},{"line":"b13","u":938,"v":649},{"line":"b13","u":975,"v":629},{"line":"b13","u":1040,"v":543},{"line":"b13","u":1101,"v":337}
],
"thin":[
{"line":"w1","u":417,"v":852},{"line":"w1","u":444,"v":871},{"line":"w1","u":470,"v":878},{"line":"w1","u":494,"v":871},{"line":"w1","u":517,"v":855},{"line":"w1","u":553,"v":835},
{"line":"w2","u":391,"v":729},{"line":"w2","u":427,"v":762},{"line":"w2","u":467,"v":788},{"line":"w2","u":500,"v":798},{"line":"w2","u":527,"v":790},{"line":"w2","u":553,"v":768},{"line":"w2","u":575,"v":745},
{"line":"w3","u":385,"v":640},{"line":"w3","u":420,"v":680},{"line":"w3","u":465,"v":715},{"line":"w3","u":510,"v":740},{"line":"w3","u":545,"v":725},{"line":"w3","u":575,"v":690},{"line":"w3","u":600,"v":640},
{"line":"w4","u":400,"v":530},{"line":"w4","u":440,"v":580},{"line":"w4","u":490,"v":640},{"line":"w4","u":540,"v":670},{"line":"w4","u":575,"v":650},{"line":"w4","u":605,"v":600},
{"line":"w5","u":415,"v":440},{"line":"w5","u":460,"v":510},{"line":"w5","u":510,"v":580},{"line":"w5","u":560,"v":610},{"line":"w5","u":590,"v":590},{"line":"w5","u":615,"v":550},
{"line":"w6","u":467,"v":961},{"line":"w6","u":490,"v":948},{"line":"w6","u":514,"v":921},{"line":"w6","u":540,"v":828},{"line":"w6","u":570,"v":752},{"line":"w6","u":590,"v":696},{"line":"w6","u":625,"v":590},{"line":"w6","u":640,"v":540},
{"line":"w7","u":467,"v":1041},{"line":"w7","u":490,"v":1039},{"line":"w7","u":520,"v":1014},
{"line":"w8","u":474,"v":1004},{"line":"w8","u":494,"v":1041},{"line":"w8","u":514,"v":1047},{"line":"w8","u":534,"v":1017},
{"line":"w9","u":852,"v":719},{"line":"w9","u":875,"v":758},{"line":"w9","u":888,"v":772},{"line":"w9","u":905,"v":778},{"line":"w9","u":918,"v":768},{"line":"w9","u":931,"v":755},
{"line":"w10","u":875,"v":679},{"line":"w10","u":895,"v":703},{"line":"w10","u":911,"v":709},{"line":"w10","u":925,"v":699},{"line":"w10","u":937,"v":683},
{"line":"w11","u":848,"v":808},{"line":"w11","u":871,"v":832},{"line":"w11","u":891,"v":852},{"line":"w11","u":908,"v":852},{"line":"w11","u":921,"v":838},
{"line":"w12","u":918,"v":842},{"line":"w12","u":954,"v":772},{"line":"w12","u":987,"v":686},{"line":"w12","u":1034,"v":606},
{"line":"w13","u":935,"v":925},{"line":"w13","u":970,"v":830},{"line":"w13","u":1005,"v":700},{"line":"w13","u":1040,"v":560},
{"line":"w14","u":870,"v":940},{"line":"w14","u":880,"v":1000},
{"line":"w15","u":855,"v":925},{"line":"w15","u":872,"v":1005},
{"line":"w16","u":895,"v":958},{"line":"w16","u":905,"v":995},{"line":"w16","u":918,"v":992},
{"line":"w17","u":240,"v":455},{"line":"w17","u":260,"v":500},{"line":"w17","u":272,"v":530},
{"line":"w18","u":215,"v":458},{"line":"w18","u":232,"v":503},{"line":"w18","u":260,"v":520},{"line":"w18","u":275,"v":510},{"line":"w18","u":295,"v":495},
{"line":"w19","u":690,"v":600},{"line":"w19","u":710,"v":650},{"line":"w19","u":735,"v":660},{"line":"w19","u":750,"v":640},
{"line":"w20","u":665,"v":620},{"line":"w20","u":690,"v":680},{"line":"w20","u":720,"v":690},{"line":"w20","u":750,"v":650},
{"line":"w21","u":340,"v":470},{"line":"w21","u":365,"v":490},{"line":"w21","u":390,"v":530},{"line":"w21","u":415,"v":585},
{"line":"w22","u":400,"v":345},{"line":"w22","u":430,"v":385},{"line":"w22","u":450,"v":430},{"line":"w22","u":470,"v":470},
{"line":"w23","u":300,"v":355},{"line":"w23","u":335,"v":335},{"line":"w23","u":360,"v":320},{"line":"w23","u":380,"v":325},
{"line":"w24","u":720,"v":470},{"line":"w24","u":755,"v":452},{"line":"w24","u":780,"v":470},
{"line":"w25","u":800,"v":580},{"line":"w25","u":825,"v":610},{"line":"w25","u":845,"v":670},
{"line":"w26","u":394,"v":734},{"line":"w26","u":430,"v":768},{"line":"w26","u":470,"v":794},{"line":"w26","u":502,"v":804},{"line":"w26","u":530,"v":796},
{"line":"w27","u":420,"v":858},{"line":"w27","u":446,"v":877},{"line":"w27","u":472,"v":884},{"line":"w27","u":496,"v":877},{"line":"w27","u":520,"v":861},
{"line":"w28","u":854,"v":725},{"line":"w28","u":877,"v":764},{"line":"w28","u":890,"v":778},{"line":"w28","u":907,"v":784},{"line":"w28","u":920,"v":774}
],
"frame":[
{"edge":"AB","u":67,"v":360,"u2":500,"v2":55},{"edge":"BC","u":500,"v":55,"u2":1152,"v2":204},{"edge":"AE","u":67,"v":360,"u2":162,"v2":965},{"edge":"EF","u":162,"v":965,"u2":797,"v2":1234},{"edge":"FG","u":797,"v":1234,"u2":1072,"v2":775},{"edge":"CG","u":1152,"v":204,"u2":1072,"v2":775},{"edge":"BH","u":500,"v":55,"u2":520,"v2":590},{"edge":"EH","u":162,"v":965,"u2":520,"v2":590},{"edge":"GH","u":1072,"v":775,"u2":520,"v2":590}],
"front":[
{"edge":"AD","u":67,"v":360,"u2":835,"v2":598},{"edge":"DC","u":835,"v":598,"u2":1152,"v2":204},{"edge":"DF","u":835,"v":598,"u2":797,"v2":1234}],
"ticks":[
{"u":95,"v":341,"u2":96,"v2":351},{"u":122,"v":322,"u2":123,"v2":332},{"u":151,"v":302,"u2":152,"v2":312},{"u":176,"v":284,"u2":177,"v2":294},{"u":199,"v":268,"u2":201,"v2":285},{"u":222,"v":252,"u2":223,"v2":262},{"u":244,"v":236,"u2":245,"v2":246},{"u":265,"v":222,"u2":266,"v2":232},{"u":286,"v":207,"u2":287,"v2":217},{"u":308,"v":192,"u2":310,"v2":209},{"u":328,"v":178,"u2":329,"v2":188},{"u":348,"v":164,"u2":349,"v2":174},{"u":368,"v":150,"u2":369,"v2":160},{"u":389,"v":135,"u2":390,"v2":145},{"u":409,"v":121,"u2":410,"v2":138},{"u":428,"v":108,"u2":429,"v2":118},{"u":446,"v":95,"u2":447,"v2":105},{"u":464,"v":83,"u2":465,"v2":93},{"u":482,"v":70,"u2":483,"v2":80},
{"u":70,"v":380,"u2":87,"v2":385},{"u":75,"v":432,"u2":86,"v2":435},{"u":84,"v":487,"u2":95,"v2":490},{"u":92,"v":540,"u2":103,"v2":543},{"u":100,"v":592,"u2":111,"v2":595},{"u":108,"v":643,"u2":125,"v2":648},{"u":116,"v":695,"u2":127,"v2":698},{"u":123,"v":740,"u2":134,"v2":743},{"u":130,"v":790,"u2":141,"v2":793},{"u":138,"v":835,"u2":149,"v2":838},{"u":145,"v":880,"u2":162,"v2":885},{"u":151,"v":925,"u2":162,"v2":928},
{"u":226,"v":992,"u2":232,"v2":984},{"u":284,"v":1017,"u2":290,"v2":1009},{"u":342,"v":1041,"u2":348,"v2":1033},{"u":402,"v":1067,"u2":408,"v2":1059},{"u":462,"v":1092,"u2":471,"v2":1079},{"u":527,"v":1120,"u2":533,"v2":1112},{"u":591,"v":1147,"u2":597,"v2":1139},{"u":658,"v":1175,"u2":664,"v2":1167},{"u":726,"v":1204,"u2":732,"v2":1196},{"u":797,"v":1234,"u2":806,"v2":1221}],
"ticklabels":[{"label":"2","u":490,"v":21},{"label":"1","u":401,"v":85},{"label":"0","u":302,"v":153},{"label":"−1","u":190,"v":231},{"label":"−2","u":68,"v":316},{"label":"1","u":40,"v":358},{"label":"0","u":82,"v":625},{"label":"−1","u":108,"v":853},{"label":"−5","u":140,"v":1002},{"label":"0","u":440,"v":1124},{"label":"5","u":765,"v":1260}],
"titles":[{"label":"π","u":297,"v":89},{"label":"δ","u":400,"v":1175},{"label":"ϖ","u":27,"v":655}]
},
"encoding":{
"x":{"field":"u","type":"quantitative","scale":{"domain":[0,1568],"nice":false,"zero":false},"axis":null},
"y":{"field":"v","type":"quantitative","scale":{"domain":[0,1285],"reverse":true,"nice":false,"zero":false},"axis":null}
},
"layer":[
{"data":{"name":"frame"},"mark":{"type":"rule","stroke":"#777777","strokeWidth":2.4},"encoding":{"x2":{"field":"u2"},"y2":{"field":"v2"}}},
{"data":{"name":"ticks"},"mark":{"type":"rule","stroke":"#777777","strokeWidth":1.6},"encoding":{"x2":{"field":"u2"},"y2":{"field":"v2"}}},
{"data":{"name":"poly"},
 "transform":[{"window":[{"op":"row_number","as":"n"}]},{"lookup":"part","from":{"data":{"name":"parts"},"key":"part","fields":["tone"]}}],
 "mark":{"type":"line","filled":true,"strokeWidth":0},
 "encoding":{"order":{"field":"n","type":"quantitative"},"detail":{"field":"part"},
 "color":{"field":"tone","type":"nominal","scale":{"domain":["β= 0.2","β= 0.5","β= 0.7","β= 1.0","β=Exact","gb","gm","gd","rd","bm","bd","bd2","o1","o2","o3","o4","o6","o7","o8"],"range":["#00cc00","#ff0000","#00dcdc","#0000cc","#ff7800","#00e600","#009a00","#006800","#b00000","#0000a8","#6a4000","#00006e","#a86400","#b06800","#c07000","#dc7400","#e85a00","#c44000","#9c3000"]},
 "legend":{"title":null,"values":["β= 0.2","β= 0.5","β= 0.7","β= 1.0","β=Exact"],"orient":"none","legendX":1334,"legendY":446,"symbolType":"square","symbolSize":529,"labelFontSize":46,"labelFont":"Liberation Sans","labelColor":"black","rowPadding":26,"labelOffset":15,"labelLimit":400,"symbolStrokeWidth":0,"symbolOpacity":1}}}},
{"data":{"name":"outline"},"transform":[{"window":[{"op":"row_number","as":"n"}]}],"mark":{"type":"line","stroke":"black","strokeWidth":3,"interpolate":"cardinal","tension":0.55},"encoding":{"order":{"field":"n","type":"quantitative"},"detail":{"field":"line"}}},
{"data":{"name":"thin"},"transform":[{"window":[{"op":"row_number","as":"n"}]}],"mark":{"type":"line","stroke":"#444444","strokeWidth":1.4},"encoding":{"order":{"field":"n","type":"quantitative"},"detail":{"field":"line"}}},
{"data":{"name":"mesh"},"transform":[{"window":[{"op":"row_number","as":"n"}]}],"mark":{"type":"line","stroke":"#444444","strokeWidth":2.6,"interpolate":"cardinal","tension":0.5},"encoding":{"order":{"field":"n","type":"quantitative"},"detail":{"field":"line"}}},
{"data":{"name":"front"},"mark":{"type":"rule","stroke":"#777777","strokeWidth":2.4},"encoding":{"x2":{"field":"u2"},"y2":{"field":"v2"}}},
{"data":{"name":"ticklabels"},"mark":{"type":"text","font":"Liberation Sans","fontSize":33,"fill":"#222222","align":"center","baseline":"middle"},"encoding":{"text":{"field":"label"}}},
{"data":{"name":"titles"},"mark":{"type":"text","font":"Liberation Serif","fontStyle":"italic","fontSize":38,"fill":"#777777","align":"center","baseline":"middle"},"encoding":{"text":{"field":"label"}}}
]
}
